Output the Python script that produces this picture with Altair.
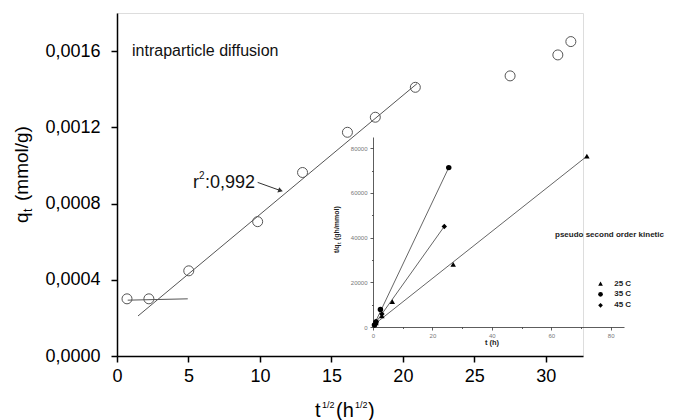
import altair as alt
import pandas as pd

FONT = "Liberation Sans"

# ---------------- main plot data (intraparticle diffusion) ----------------
sqrt_t = [0.7, 2.23, 5.02, 9.84, 12.98, 16.12, 18.07, 20.87, 27.5, 30.84, 31.75]
q_t = [0.00030, 0.00030, 0.000447, 0.000705, 0.000963, 0.001174, 0.001253,
       0.00141, 0.00147, 0.00158, 0.00165]

fit_x = [1.47, 21.0]
fit_y = [0.00021, 0.00143]
plateau_x = [0.75, 4.95]
plateau_y = [0.000293, 0.000300]

arrow_x = [9.84, 11.44]
arrow_y = [0.000911, 0.000868]

main_xticks = [0, 2.5, 5, 7.5, 10, 12.5, 15, 17.5, 20, 22.5, 25, 27.5, 30, 32.5]
main_yticks = [0, 0.0002, 0.0004, 0.0006, 0.0008, 0.0010, 0.0012, 0.0014, 0.0016, 0.0018]

# ---------------- inset data (pseudo second order kinetic) ----------------
series = ["25 C", "35 C", "45 C"]
shapes = ["triangle-up", "circle", "diamond"]
t25 = [1, 3, 6.5, 27, 72]
y25 = [1800, 5000, 11300, 28050, 76400]
t35 = [0.5, 1, 2.5, 25.5]
y35 = [900, 2200, 7800, 71300]
t45 = [0.5, 1, 3, 24]
y45 = [1000, 2500, 5800, 45000]

line25_t = [0.3, 72]
line25_y = [1000, 76400]
line35_t = [0.3, 25.5]
line35_y = [800, 71300]
line45_t = [0.3, 24]
line45_y = [800, 45000]

inset_xticks = [0, 10, 20, 30, 40, 50, 60, 70, 80]
inset_yticks = [0, 10000, 20000, 30000, 40000, 50000, 60000, 70000, 80000]

legend_x = [76.6, 76.6, 76.6]
legend_y = [19400, 14630, 9710]
legend_text_x = 81.2

# ---------------- layout ----------------
W, H = 466, 343
INSET_X_RANGE = [256, 507]
INSET_Y_RANGE = [314, 124]

main_df = pd.DataFrame({"x": sqrt_t, "y": q_t})
fit_df = pd.DataFrame({"x": fit_x + plateau_x, "y": fit_y + plateau_y,
                       "seg": ["fit", "fit", "plateau", "plateau"]})
arrow_df = pd.DataFrame({"x": arrow_x, "y": arrow_y})
arrowhead_df = pd.DataFrame({"x": [arrow_x[1]], "y": [arrow_y[1]]})

xs = alt.Scale(domain=[0, 32.6], nice=False, zero=False)
ys = alt.Scale(domain=[0, 0.0018], nice=False)

x_axis = alt.Axis(
    values=main_xticks, title=None, grid=False,
    labelExpr="datum.value % 5 == 0 ? datum.label : ''",
    tickSize={"condition": {"test": "datum.value % 5 == 0", "value": 6}, "value": 3},
    domainColor="black", domainWidth=1.5, tickColor="black", tickWidth=1.5,
    labelFont=FONT, labelFontSize=18, labelColor="black", labelPadding=5,
    labelFlush=False, labelOverlap=False,
)
y_axis = alt.Axis(
    values=main_yticks, title=None, grid=False,
    labelExpr="round(datum.value*10000) % 4 == 0 ? replace(format(datum.value, '.4f'), '.', ',') : ''",
    tickSize={"condition": {"test": "round(datum.value*10000) % 4 == 0", "value": 6}, "value": 3},
    domainColor="black", domainWidth=1.5, tickColor="black", tickWidth=1.5,
    labelFont=FONT, labelFontSize=18, labelColor="black", labelPadding=11,
    labelFlush=False, labelOverlap=False,
)

points = alt.Chart(main_df).mark_point(
    shape="circle", filled=False, size=100, color="#555", strokeWidth=1, opacity=1
).encode(x=alt.X("x:Q", scale=xs, axis=x_axis), y=alt.Y("y:Q", scale=ys, axis=y_axis))

fits = alt.Chart(fit_df).mark_line(color="#555", strokeWidth=1).encode(
    x="x:Q", y="y:Q", detail="seg:N")

arrow = alt.Chart(arrow_df).mark_line(color="#333", strokeWidth=1).encode(x="x:Q", y="y:Q")
arrowhead = alt.Chart(arrowhead_df).mark_point(
    shape="triangle-right", filled=True, size=30, color="#333", angle=19, opacity=1
).encode(x="x:Q", y="y:Q")


def ptext(txt, x, y, size, angle=0, align="left", baseline="alphabetic",
          weight="normal", color="black"):
    return alt.Chart(pd.DataFrame({"t": [txt]})).mark_text(
        align=align, baseline=baseline, angle=angle, font=FONT,
        fontSize=size, fontWeight=weight, color=color,
    ).encode(x=alt.value(x), y=alt.value(y), text="t:N")


main_texts = [
    ptext("intraparticle diffusion", 15, 38, 16, baseline="middle", color="#111"),
    ptext("r", 76, 175, 18, color="#111"),
    ptext("2", 82, 166, 10, color="#111"),
    ptext(":0,992", 88, 175, 18, color="#111"),
    # x title t^{1/2} (h^{1/2})
    ptext("t", 198, 404, 20),
    ptext("1/2", 205, 395, 9),
    ptext("(h", 219, 404, 20),
    ptext("1/2", 238, 395, 9),
    ptext(")", 251, 404, 20),
    # y title q_t (mmol/g)
    ptext("q", -95, 210, 19, angle=270, baseline="middle"),
    ptext("t", -89, 199, 12, angle=270, baseline="middle"),
    ptext("(mmol/g)", -95, 188, 19, angle=270, baseline="middle"),
]

main = alt.layer(points, fits, arrow, arrowhead, *main_texts)

# ---------------- inset ----------------
ins_df = pd.DataFrame({
    "t": t25 + t35 + t45,
    "v": y25 + y35 + y45,
    "s": [series[0]] * len(t25) + [series[1]] * len(t35) + [series[2]] * len(t45),
})
ins_lines = pd.DataFrame({
    "t": line25_t + line35_t + line45_t,
    "v": line25_y + line35_y + line45_y,
    "s": [series[0]] * 2 + [series[1]] * 2 + [series[2]] * 2,
})
leg_df = pd.DataFrame({"t": legend_x, "v": legend_y, "s": series})
leg_txt_df = pd.DataFrame({"t": [legend_text_x] * 3, "v": legend_y, "s": series})

ixs = alt.Scale(domain=[0, 84.5], range=INSET_X_RANGE, nice=False, zero=False)
iys = alt.Scale(domain=[0, 85000], range=INSET_Y_RANGE, nice=False)
shape_scale = alt.Scale(domain=series, range=shapes)

ix_axis = alt.Axis(
    orient="bottom", offset=-(H - INSET_Y_RANGE[0]), values=inset_xticks,
    title=None, grid=False,
    labelExpr="datum.value % 20 == 0 ? datum.label : ''",
    tickSize={"condition": {"test": "datum.value % 20 == 0", "value": 3}, "value": 1.5},
    domainColor="#333", domainWidth=0.8, tickColor="#333", tickWidth=0.8,
    labelFont=FONT, labelFontSize=6, labelColor="#777", labelPadding=2,
    labelFlush=False, labelOverlap=False,
)
iy_axis = alt.Axis(
    orient="left", offset=-INSET_X_RANGE[0], values=inset_yticks,
    title=None, grid=False,
    labelExpr="datum.value % 20000 == 0 ? datum.label : ''",
    format="d",
    tickSize={"condition": {"test": "datum.value % 20000 == 0", "value": 3}, "value": 1.5},
    domainColor="#333", domainWidth=0.8, tickColor="#333", tickWidth=0.8,
    labelFont=FONT, labelFontSize=6, labelColor="#777", labelPadding=3,
    labelFlush=False, labelOverlap=False,
)

ins_line_chart = alt.Chart(ins_lines).mark_line(color="#666", strokeWidth=1).encode(
    x=alt.X("t:Q", scale=ixs, axis=ix_axis),
    y=alt.Y("v:Q", scale=iys, axis=iy_axis),
    detail="s:N",
)
ins_pts = alt.Chart(ins_df).mark_point(filled=True, size=30, color="black", opacity=1).encode(
    x="t:Q", y="v:Q", shape=alt.Shape("s:N", scale=shape_scale, legend=None))
leg_pts = alt.Chart(leg_df).mark_point(filled=True, size=22, color="black", opacity=1).encode(
    x="t:Q", y="v:Q", shape=alt.Shape("s:N", scale=shape_scale, legend=None))
leg_txt = alt.Chart(leg_txt_df).mark_text(
    align="left", baseline="middle", font=FONT, fontSize=8, fontWeight="bold", color="#222"
).encode(x="t:Q", y="v:Q", text="s:N")

inset_texts = [
    ptext("pseudo second order kinetic", 438, 222, 8, baseline="middle", weight="bold", color="#222"),
    ptext("t (h)", 375, 330, 7.5, align="center", baseline="middle", weight="bold", color="#222"),
    ptext("t/q", 219.5, 240, 7, angle=270, baseline="middle", weight="bold", color="#222"),
    ptext("t", 221.5, 231, 5, angle=270, baseline="middle", weight="bold", color="#222"),
    ptext("(gh/mmol)", 219.5, 227, 7, angle=270, baseline="middle", weight="bold", color="#222"),
]

inset = alt.layer(ins_line_chart, ins_pts, leg_pts, leg_txt, *inset_texts)

chart = alt.layer(main, inset).resolve_scale(
    x="independent", y="independent", shape="shared"
).properties(
    width=W, height=H, autosize="none",
    padding={"left": 109, "top": 5, "right": 83, "bottom": 64},
).configure_view(stroke=None).configure(background="white")

chart.save("out.html", embed_options={"renderer": "svg", "actions": False})
